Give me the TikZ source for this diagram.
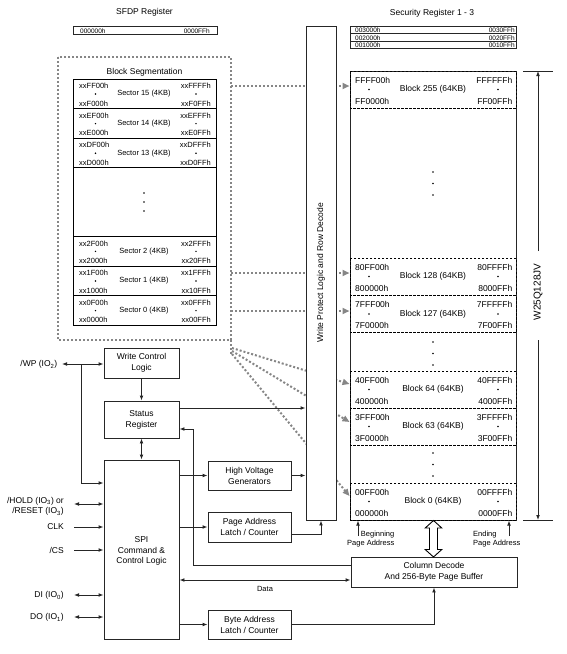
\documentclass[tikz,border=0pt]{standalone}
\usepackage{fontspec}
\setmainfont{Liberation Sans}
\usetikzlibrary{arrows.meta}
\newcommand\blkrow[6]{%
  \draw[dashed, dash pattern=on 2.5pt off 1.5pt, line width=0.7pt] (350,#1) rectangle (516,#1+37);
  \node[anchor=west] at (355,#1+9) {#2};
  \fill (369,#1+18.5) circle (0.85pt);
  \node[anchor=west] at (355,#1+30) {#3};
  \node at (433,#1+18.5) {#4};
  \node[anchor=east] at (512.5,#1+9) {#5};
  \fill (498,#1+18.5) circle (0.85pt);
  \node[anchor=east] at (512.5,#1+30) {#6};
}
\newcommand\secrow[6]{%
  \draw[line width=0.9pt] (73,#1) rectangle (216,#1+29.6);
  \node[sm,anchor=west] at (79,#1+7) {#2};
  \fill (95.5,#1+15) circle (0.8pt);
  \node[sm,anchor=west] at (79,#1+24.5) {#3};
  \node[sm] at (144,#1+15) {#4};
  \node[sm,anchor=east] at (211,#1+7) {#5};
  \fill (196,#1+15) circle (0.8pt);
  \node[sm,anchor=east] at (211,#1+24.5) {#6};
}
\begin{document}
\begin{tikzpicture}[x=1pt,y=-1pt,
  every node/.style={font=\fontsize{8.5}{11}\selectfont, inner sep=0pt, text=black},
  box/.style={draw=black!85, line width=0.9pt, fill=white, align=center},
  sm/.style={font=\fontsize{7.5}{9}\selectfont},
  tinyf/.style={font=\fontsize{6.5}{7}\selectfont},
  ln/.style={draw=black!85, line width=0.9pt},
  conn/.style={ln, -{Latex[length=5pt,width=3.8pt]}},
  dconn/.style={ln, {Latex[length=5pt,width=3.8pt]}-{Latex[length=5pt,width=3.8pt]}},
  gdot/.style={draw=gray!95, line width=2pt, dash pattern=on 2pt off 2pt},
  garr/.style={gdot, -{Triangle[length=7pt,width=6pt]}},
]
\useasboundingbox (0,0) rectangle (567,654);

% ---- SFDP register
\node (sfdpt) at (144.5,12) {SFDP Register};
\node[box, minimum width=144, minimum height=8.3] (sfdp) at (145,30.2) {};
\node[tinyf, anchor=west] at (80,30.8) {000000h};
\node[tinyf, anchor=east] at (210,30.8) {0000FFh};

% ---- Security registers
\node (sect) at (432,13) {Security Register 1 - 3};
\node[box, minimum width=166, minimum height=7.6] (s3) at (433.5,29.8) {};
\node[box, minimum width=166, minimum height=7.6] (s2) at (433.5,37.4) {};
\node[box, minimum width=166, minimum height=7.6] (s1) at (433.5,45.0) {};
\node[tinyf, anchor=west] at (355,30.3) {003000h};
\node[tinyf, anchor=east] at (515,30.3) {0030FFh};
\node[tinyf, anchor=west] at (355,37.9) {002000h};
\node[tinyf, anchor=east] at (515,37.9) {0020FFh};
\node[tinyf, anchor=west] at (355,45.5) {001000h};
\node[tinyf, anchor=east] at (515,45.5) {0010FFh};

% ---- Memory array
\node[draw=black!85, line width=1pt, minimum width=166, minimum height=449] (mem) at (433,295.5) {};
\blkrow{71}{FFFF00h}{FF0000h}{Block 255 (64KB)}{FFFFFFh}{FF00FFh}
\blkrow{258}{80FF00h}{800000h}{Block 128 (64KB)}{80FFFFh}{8000FFh}
\blkrow{295.5}{7FFF00h}{7F0000h}{Block 127 (64KB)}{7FFFFFh}{7F00FFh}
\blkrow{371}{40FF00h}{400000h}{Block 64 (64KB)}{40FFFFh}{4000FFh}
\blkrow{408}{3FFF00h}{3F0000h}{Block 63 (64KB)}{3FFFFFh}{3F00FFh}
\blkrow{483}{00FF00h}{000000h}{Block 0 (64KB)}{00FFFFh}{0000FFh}
\foreach \yy in {172,183.5,195, 342,353.5,365, 453,464.5,476}{\fill (433,\yy) circle (0.85pt);}

% ---- Block segmentation
\draw[gdot] (58,57) rectangle (231,340);
\draw[gdot] (231,340) -- (231,354);
\node (segt) at (144.5,72) {Block Segmentation};
\secrow{79}{xxFF00h}{xxF000h}{Sector 15 (4KB)}{xxFFFFh}{xxF0FFh}
\secrow{108.6}{xxEF00h}{xxE000h}{Sector 14 (4KB)}{xxEFFFh}{xxE0FFh}
\secrow{138.2}{xxDF00h}{xxD000h}{Sector 13 (4KB)}{xxDFFFh}{xxD0FFh}
\draw[line width=0.9pt] (73,167.8) rectangle (216,236.4);
\foreach \yy in {193,202,211}{\fill (144,\yy) circle (0.8pt);}
\secrow{236.4}{xx2F00h}{xx2000h}{Sector 2 (4KB)}{xx2FFFh}{xx20FFh}
\secrow{266}{xx1F00h}{xx1000h}{Sector 1 (4KB)}{xx1FFFh}{xx10FFh}
\secrow{295.6}{xx0F00h}{xx0000h}{Sector 0 (4KB)}{xx0FFFh}{xx00FFh}

% ---- gray dotted arrows
\draw[garr] (231,86) -- (mem.west |- 0,86);
\draw[garr] (231,273) -- (mem.west |- 0,273);
\draw[garr] (231,311) -- (mem.west |- 0,311);
\draw[garr] (232,348) -- (mem.west |- 0,384);
\draw[garr] (232,351) -- (mem.west |- 0,422);
\draw[garr] (232,354) -- (mem.west |- 0,496);

% ---- Write protect logic box
\node[box, minimum width=30, minimum height=494] (wp) at (321,273) {};
\node[rotate=90] (wpt) at (321,272.5) {Write Protect Logic and Row Decode};

% ---- dimension
\draw[ln] (523,71) -- (553,71);
\draw[ln] (523,520) -- (553,520);
\node[font=\fontsize{10}{12}\selectfont, rotate=90] (chip) at (538,292) {W25Q128JV};
\coordinate (dt) at (538,71);
\coordinate (db) at (538,520);
\draw[conn] (538,251) -- (dt);
\draw[conn] (538,340) -- (db);

% ---- logic blocks
\node[box, minimum width=75, minimum height=30] (wcl) at (141.5,363) {Write Control\\Logic};
\node[box, minimum width=75, minimum height=37] (sr) at (141.5,419.5) {Status\\Register};
\node[box, minimum width=75, minimum height=179] (spi) at (141.5,549.5) {};
\node[align=center, font=\fontsize{8.5}{10.5}\selectfont] (spit) at (141.5,551) {SPI\\Command \&\\Control Logic};
\node[box, minimum width=83, minimum height=29] (hvg) at (249.5,475.5) {High Voltage\\Generators};
\node[box, minimum width=83, minimum height=30] (palc) at (249.5,527) {Page Address\\Latch / Counter};
\node[box, minimum width=83, minimum height=29] (balc) at (249.5,624.5) {Byte Address\\Latch / Counter};
\node[box, minimum width=166, minimum height=30] (cd) at (434,572) {Column Decode\\And 256-Byte Page Buffer};

% ---- hollow double arrow
\draw[line width=0.9pt, fill=white] (433.5,520.5) -- (425.2,528) -- (429.5,528) -- (429.5,549.5) -- (425.2,549.5) -- (433.5,557) -- (441.8,549.5) -- (437.5,549.5) -- (437.5,528) -- (441.8,528) -- cycle;

% ---- left signals
\node[anchor=east] (wpin) at (57.5,364.5) {/WP (IO\textsubscript{2})};
\node[anchor=east, align=right, font=\fontsize{8.5}{10.5}\selectfont] (hold) at (64,506.5) {/HOLD (IO\textsubscript{3}) or\\/RESET (IO\textsubscript{3})};
\node[anchor=east] (clk) at (64,527) {CLK};
\node[anchor=east] (cs) at (64,550) {/CS};
\node[anchor=east] (di) at (64,595.5) {DI (IO\textsubscript{0})};
\node[anchor=east] (do) at (64,617.5) {DO (IO\textsubscript{1})};
\coordinate (wpa) at (62,364);
\coordinate (wpj) at (81,364);
\draw[dconn] (wpa) -- (wcl.west |- wpa);
\draw[conn] (wpj) |- (spi.west |- 0,483);
\draw[dconn] (74,504) -- (spi.west |- 0,504);
\draw[conn] (74,527) -- (spi.west |- 0,527);
\draw[conn] (74,550) -- (spi.west |- 0,550);
\draw[dconn] (74,595) -- (spi.west |- 0,595);
\draw[dconn] (74,617) -- (spi.west |- 0,617);

% ---- internal connectors
\draw[conn] (wcl.south) -- (sr.north);
\draw[dconn] (sr.south) -- (spi.north);
\draw[conn] (sr.east |- 0,408) -- (wp.west |- 0,408);
\draw[conn] (cd.west |- 0,565) -| (193,429) -- (sr.east |- 0,429);
\draw[conn] (spi.east |- hvg.west) -- (hvg.west);
\draw[conn] (hvg.east) -- (wp.west |- hvg.east);
\draw[conn] (spi.east |- palc.west) -- (palc.west);
\draw[conn] (palc.east |- 0,534) -| (wp.south);
\draw[dconn] (spi.east |- 0,580) -- (cd.west |- 0,580);
\node[sm] (data) at (265,589) {Data};
\draw[conn] (spi.east |- balc.west) -- (balc.west);
\draw[conn] (balc.east) -| (cd.south);

% ---- page address arrows
\coordinate (bpa) at (358,536);
\coordinate (epa) at (509,536);
\draw[conn] (bpa) -- (bpa |- mem.south);
\draw[conn] (epa) -- (epa |- mem.south);
\node[sm, anchor=east, align=right, font=\fontsize{7.5}{9}\selectfont] (bpat) at (394.5,539) {Beginning\\Page Address};
\node[sm, anchor=west, align=left, font=\fontsize{7.5}{9}\selectfont] (epat) at (473,539) {Ending\\Page Address};
\end{tikzpicture}
\end{document}
